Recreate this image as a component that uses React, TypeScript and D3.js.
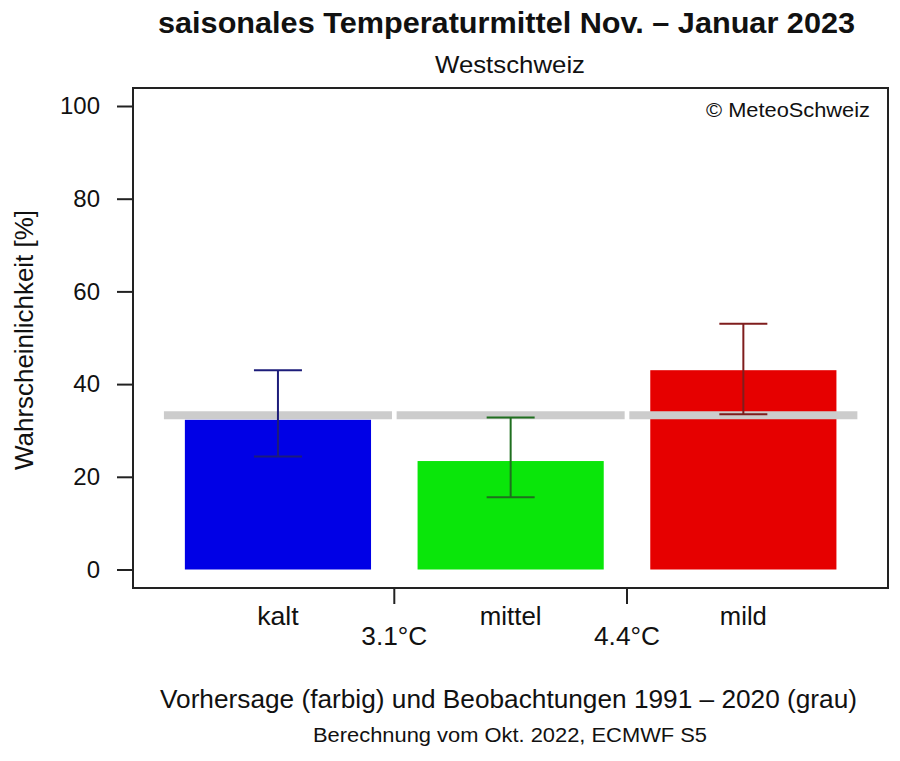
import React, { useRef, useEffect } from "react";
import { select, scaleLinear, scaleBand, axisLeft } from "d3";

const categories = ["kalt", "mittel", "mild"];
const forecast = [32.3, 23.4, 43.0];
const errLow = [24.4, 15.6, 33.5];
const errHigh = [43.0, 32.8, 53.0];
const climatology = [33.3, 33.3, 33.3];
const thresholds = ["3.1°C", "4.4°C"];
const yTicks = [0, 20, 40, 60, 80, 100];

const barColors = ["#0000e6", "#0ae60a", "#e60000"];
const errColors = ["#1c1c7a", "#1f6f1f", "#7f1d1d"];

const W = 900;
const H = 761;
const FONT = "'Liberation Sans', Arial, Helvetica, sans-serif";

const App: React.FC = () => {
  const svgRef = useRef<SVGSVGElement>(null);

  useEffect(() => {
    const svg = select(svgRef.current);
    svg.selectAll("*").remove();

    const box = { left: 133, right: 888, top: 88, bottom: 588 };

    const x = scaleBand<string>().domain(categories).range([161.6, 859.7]).paddingInner(0).paddingOuter(0);
    const y = scaleLinear().domain([0, 100]).range([569.5, 106]);
    const step = x.bandwidth();
    const cx = (i: number) => (x(categories[i]) as number) + step / 2;

    // bars
    svg
      .append("g")
      .selectAll("rect")
      .data(forecast)
      .join("rect")
      .attr("x", (d, i) => cx(i) - step * 0.4)
      .attr("width", step * 0.8)
      .attr("y", (d) => y(d))
      .attr("height", (d) => y(0) - y(d))
      .attr("fill", (d, i) => barColors[i]);

    // climatology lines (grey)
    svg
      .append("g")
      .selectAll("line")
      .data(climatology)
      .join("line")
      .attr("x1", (d, i) => cx(i) - step * 0.49)
      .attr("x2", (d, i) => cx(i) + step * 0.49)
      .attr("y1", (d) => y(d))
      .attr("y2", (d) => y(d))
      .attr("stroke", "#cccccc")
      .attr("stroke-width", 8);

    // error bars
    const eb = svg.append("g");
    categories.forEach((c, i) => {
      const g = eb.append("g").attr("stroke", errColors[i]).attr("stroke-width", 2);
      g.append("line").attr("x1", cx(i)).attr("x2", cx(i)).attr("y1", y(errLow[i])).attr("y2", y(errHigh[i]));
      [errLow[i], errHigh[i]].forEach((v) => {
        g.append("line")
          .attr("x1", cx(i) - 24)
          .attr("x2", cx(i) + 24)
          .attr("y1", y(v))
          .attr("y2", y(v));
      });
    });

    // box
    svg
      .append("rect")
      .attr("x", box.left)
      .attr("y", box.top)
      .attr("width", box.right - box.left)
      .attr("height", box.bottom - box.top)
      .attr("fill", "none")
      .attr("stroke", "#222")
      .attr("stroke-width", 2);

    // y axis
    const yAxis = axisLeft(y).tickValues(yTicks).tickSize(16).tickPadding(17);
    const ya = svg.append("g").attr("transform", `translate(${box.left},0)`).call(yAxis);
    ya.select(".domain").remove();
    ya.selectAll("line").attr("stroke", "#222").attr("stroke-width", 2);
    ya.selectAll("text").attr("font-family", FONT).attr("font-size", 24).attr("fill", "#111");

    const txt = (
      s: string,
      xx: number,
      yy: number,
      size: number,
      len: number,
      anchor = "middle",
      weight = "normal"
    ) =>
      svg
        .append("text")
        .attr("x", xx)
        .attr("y", yy)
        .attr("text-anchor", anchor)
        .attr("font-family", FONT)
        .attr("font-size", size)
        .attr("font-weight", weight)
        .attr("fill", "#111")
        .attr("textLength", len)
        .attr("lengthAdjust", "spacingAndGlyphs")
        .text(s);

    // category dividers + threshold labels
    thresholds.forEach((t, i) => {
      const xx = x(categories[i + 1]) as number;
      svg
        .append("line")
        .attr("x1", xx)
        .attr("x2", xx)
        .attr("y1", box.bottom)
        .attr("y2", box.bottom + 16)
        .attr("stroke", "#222")
        .attr("stroke-width", 2);
      txt(t, xx, 645, 25.5, 66);
    });

    // category labels
    const catLen = [41.6, 61.7, 47];
    categories.forEach((c, i) => txt(c, cx(i), 625, 25.5, catLen[i]));

    txt("saisonales Temperaturmittel Nov. \u2013 Januar 2023", 506.5, 33, 29, 697, "middle", "bold");
    txt("Westschweiz", 510, 73, 24, 150);
    txt("\u00a9 MeteoSchweiz", 870, 117, 20.5, 164, "end");
    txt("Vorhersage (farbig) und Beobachtungen 1991 \u2013 2020 (grau)", 508.5, 708, 25, 697);
    txt("Berechnung vom Okt. 2022, ECMWF S5", 510, 742, 20, 394);

    svg
      .append("text")
      .attr("transform", `translate(33,340) rotate(-90)`)
      .attr("text-anchor", "middle")
      .attr("font-family", FONT)
      .attr("font-size", 25)
      .attr("fill", "#111")
      .attr("textLength", 260)
      .attr("lengthAdjust", "spacingAndGlyphs")
      .text("Wahrscheinlichkeit [%]");
  }, []);

  return (
    <svg
      ref={svgRef}
      width={W}
      height={H}
      style={{ position: "absolute", left: 0, top: 0, background: "#fff" }}
    />
  );
};

export default App;
